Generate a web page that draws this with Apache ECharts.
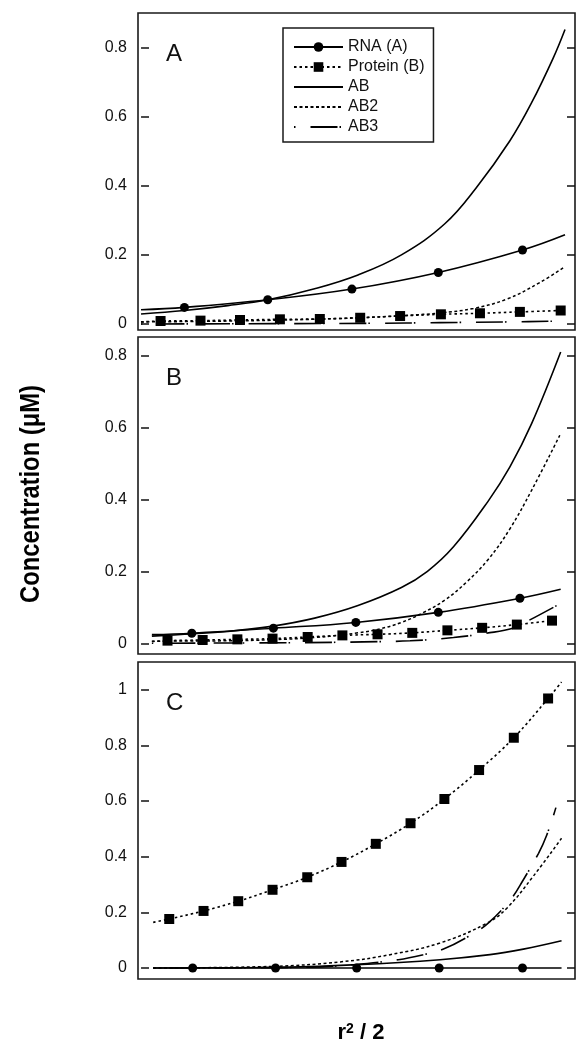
<!DOCTYPE html>
<html>
<head>
<meta charset="utf-8">
<script src="https://cdn.jsdelivr.net/npm/echarts@6/dist/echarts.min.js"></script>
<style>
html,body{margin:0;padding:0;background:#fff;}
#chart{width:581px;height:1050px;}
</style>
</head>
<body>
<div id="chart"></div>
<script>
// ---------- data (x = r^2/2, arbitrary units 0..100 across the plot) ----------
const seriesNames = ['RNA (A)', 'Protein (B)', 'AB', 'AB2', 'AB3'];
const panelLabels = ['A', 'B', 'C'];
const yTicksAB = [0, 0.2, 0.4, 0.6, 0.8];
const yTicksC = [0, 0.2, 0.4, 0.6, 0.8, 1];

// Panel A
const rnaA_lineX = [0, 97.7];
const rnaA_lineY = [0.041, 0.258];
const rnaA_markX = [10.0, 29.2, 48.6, 68.5, 87.9];
const rnaA_markY = [0.048, 0.070, 0.101, 0.149, 0.214];
const proA_lineX = [0];
const proA_lineY = [0.006];
const proA_markX = [4.5, 13.7, 22.8, 32.0, 41.2, 50.5, 59.7, 69.1, 78.1, 87.3, 96.7];
const proA_markY = [0.0087, 0.0097, 0.0116, 0.0135, 0.0145, 0.018, 0.023, 0.028, 0.031, 0.035, 0.039];
const abA_x = [0, 10, 20, 29.2, 40, 50, 60, 70, 77.3, 85, 90, 95, 97.7];
const abA_y = [0.029, 0.039, 0.053, 0.070, 0.102, 0.142, 0.200, 0.290, 0.395, 0.530, 0.640, 0.770, 0.852];
const ab2A_x = [0, 22.8, 45.9, 61.2, 68.9, 76.6, 84.3, 91.9, 97.7];
const ab2A_y = [0.006, 0.009, 0.016, 0.025, 0.032, 0.045, 0.072, 0.120, 0.166];
const ab3A_x = [0, 30.5, 53.5, 68.9, 84.3, 94.2, 97.7];
const ab3A_y = [0.0, 0.001, 0.002, 0.004, 0.006, 0.008, 0.009];

// Panel B
const rnaB_lineX = [2.5, 96.7];
const rnaB_lineY = [0.024, 0.150];
const rnaB_markX = [11.7, 30.5, 49.5, 68.5, 87.3];
const rnaB_markY = [0.028, 0.042, 0.058, 0.086, 0.125];
const proB_lineX = [2.5];
const proB_lineY = [0.005];
const proB_markX = [6.1, 14.2, 22.2, 30.3, 38.4, 46.4, 54.5, 62.5, 70.6, 78.6, 86.6, 94.7];
const proB_markY = [0.0074, 0.0092, 0.011, 0.013, 0.0176, 0.022, 0.025, 0.029, 0.036, 0.043, 0.052, 0.063];
const abB_x = [2.5, 10, 20, 30, 40, 50, 60, 66, 72, 80, 85, 90, 96.7];
const abB_y = [0.020, 0.025, 0.033, 0.047, 0.070, 0.105, 0.155, 0.200, 0.268, 0.395, 0.490, 0.610, 0.809];
const ab2B_x = [2.5, 20, 30, 40, 50, 55, 60, 65, 70, 75, 80, 85, 90, 96.5];
const ab2B_y = [0.006, 0.007, 0.010, 0.016, 0.029, 0.040, 0.058, 0.085, 0.120, 0.170, 0.233, 0.318, 0.425, 0.578];
const ab3B_x = [2.5, 38.2, 51.2, 62.0, 72.0, 79.6, 85.8, 89.6, 95.8];
const ab3B_y = [0.0, 0.002, 0.004, 0.007, 0.016, 0.028, 0.042, 0.065, 0.105];

// Panel C
const rnaC_lineX = [2.8, 96.9];
const rnaC_lineY = [0, 0];
const rnaC_markX = [11.9, 31.0, 49.7, 68.7, 87.9];
const rnaC_markY = [0, 0, 0, 0, 0];
const proC_lineX = [2.8, 96.9];
const proC_lineY = [0.164, 1.027];
const proC_markX = [6.5, 14.4, 22.4, 30.3, 38.3, 46.2, 54.1, 62.1, 69.9, 77.9, 85.9, 93.8];
const proC_markY = [0.176, 0.205, 0.240, 0.281, 0.326, 0.381, 0.446, 0.520, 0.607, 0.711, 0.827, 0.968];
const abC_x = [2.8, 30.5, 49.7, 68.9, 80.4, 88.1, 96.9];
const abC_y = [0, 0.002, 0.012, 0.030, 0.048, 0.068, 0.098];
const ab2C_x = [2.8, 30.5, 45.9, 57.4, 68.9, 79.7, 84.3, 90.4, 96.9];
const ab2C_y = [0, 0.006, 0.022, 0.048, 0.090, 0.161, 0.215, 0.330, 0.466];
const ab3C_x = [2.8, 38.2, 48.9, 59.3, 65.1, 69.7, 75.4, 80.0, 85.4, 88.1, 91.6, 93.5, 95.6];
const ab3C_y = [0, 0.003, 0.012, 0.030, 0.048, 0.068, 0.113, 0.161, 0.251, 0.317, 0.412, 0.478, 0.576];

// ---------- build ----------
function merged(lx, ly, mx, my) {
  const pts = [];
  lx.forEach((x, i) => pts.push({ value: [x, ly[i]], symbol: 'none' }));
  mx.forEach((x, i) => pts.push({ value: [x, my[i]] }));
  pts.sort((a, b) => a.value[0] - b.value[0]);
  return pts;
}
function pairs(xs, ys) { return xs.map((x, i) => [x, ys[i]]); }

const panels = [
  { rna: merged(rnaA_lineX, rnaA_lineY, rnaA_markX, rnaA_markY),
    pro: merged(proA_lineX, proA_lineY, proA_markX, proA_markY),
    ab: pairs(abA_x, abA_y), ab2: pairs(ab2A_x, ab2A_y), ab3: pairs(ab3A_x, ab3A_y),
    min: -0.0174, max: 0.8996, ticks: yTicksAB, top: 13 },
  { rna: merged(rnaB_lineX, rnaB_lineY, rnaB_markX, rnaB_markY),
    pro: merged(proB_lineX, proB_lineY, proB_markX, proB_markY),
    ab: pairs(abB_x, abB_y), ab2: pairs(ab2B_x, ab2B_y), ab3: pairs(ab3B_x, ab3B_y),
    min: -0.0297, max: 0.8508, ticks: yTicksAB, top: 337 },
  { rna: merged(rnaC_lineX, rnaC_lineY, rnaC_markX, rnaC_markY),
    pro: merged(proC_lineX, proC_lineY, proC_markX, proC_markY),
    ab: pairs(abC_x, abC_y), ab2: pairs(ab2C_x, ab2C_y), ab3: pairs(ab3C_x, ab3C_y),
    min: -0.0394, max: 1.099, ticks: yTicksC, top: 662 }
];

const INK = '#111';
const FONT = "'Liberation Sans', Arial, sans-serif";
const grids = [], xAxes = [], yAxes = [], series = [], graphics = [];

const styles = {
  rna: { lineStyle: { type: 'solid', width: 1.6 }, symbol: 'circle', symbolSize: 9 },
  pro: { lineStyle: { type: [2.5, 3], width: 1.6 }, symbol: 'rect', symbolSize: 10 },
  ab:  { lineStyle: { type: 'solid', width: 1.6 }, symbol: 'none' },
  ab2: { lineStyle: { type: [3, 2.5], width: 1.5 }, symbol: 'none' },
  ab3: { lineStyle: { type: [1.5, 15, 27, 2], width: 1.6 }, symbol: 'none' }
};
const keys = ['rna', 'pro', 'ab', 'ab2', 'ab3'];

panels.forEach((p, gi) => {
  grids.push({ left: 138, width: 437, top: p.top, height: 317, show: true,
    borderColor: '#1a1a1a', borderWidth: 1.6, backgroundColor: 'transparent' });
  xAxes.push({ gridIndex: gi, type: 'value', min: -0.7, max: 100, show: false });
  const common = {
    gridIndex: gi, type: 'value', min: p.min, max: p.max,
    axisLine: { show: false }, splitLine: { show: false },
    axisTick: { show: true, inside: true, length: 8, customValues: p.ticks,
      lineStyle: { color: INK, width: 1.5 } }
  };
  yAxes.push(Object.assign({}, common, { position: 'left',
    axisLabel: { show: true, customValues: p.ticks, margin: 11, color: INK,
      fontFamily: FONT, fontSize: 16,
      formatter: v => { const r = v / 0.2; return Math.abs(r - Math.round(r)) < 1e-6 ? String(+(+v).toFixed(1)) : ''; } } }));
  yAxes.push(Object.assign({}, common, { position: 'right', axisLabel: { show: false } }));
  keys.forEach((k, si) => {
    const st = styles[k];
    series.push({
      name: seriesNames[si], type: 'line', xAxisIndex: gi, yAxisIndex: gi * 2,
      data: p[k], smooth: 0.4, showAllSymbol: true,
      symbol: st.symbol, symbolSize: st.symbolSize || 0,
      itemStyle: { color: '#000' },
      lineStyle: Object.assign({ color: '#000' }, st.lineStyle),
      animation: false, silent: true, z: 3
    });
  });
  graphics.push({ type: 'text', left: 166, top: p.top + 29,
    style: { text: panelLabels[gi], fill: INK, font: "24px 'Liberation Sans', Arial, sans-serif" } });
});

graphics.push({ type: 'text', x: 32, y: 494, rotation: Math.PI / 2, scaleX: 0.88,
  style: { text: 'Concentration (μM)', fill: '#000', align: 'center', verticalAlign: 'middle',
    font: "bold 27px 'Liberation Sans', Arial, sans-serif" } });
graphics.push({ type: 'text', x: 361, y: 1033,
  style: { text: '{a|r}{s|2}{a| / 2}', align: 'center', verticalAlign: 'middle', fill: '#000',
    rich: { a: { fontSize: 22, fontWeight: 'bold', fontFamily: FONT, fill: '#000' },
            s: { fontSize: 14, fontWeight: 'bold', fontFamily: FONT, verticalAlign: 'top', fill: '#000' } } } });

const legendData = seriesNames.map((n, i) => i < 2 ? { name: n } :
  { name: n, itemStyle: { opacity: 0 } });

const chart = echarts.init(document.getElementById('chart'), null, { renderer: 'canvas' });
chart.setOption({
  animation: false,
  backgroundColor: '#fff',
  grid: grids, xAxis: xAxes, yAxis: yAxes, series: series,
  legend: {
    data: legendData, orient: 'vertical', left: 283, top: 28,
    padding: [11, 9, 7, 10], itemGap: 4, itemWidth: 49, itemHeight: 12,
    borderColor: '#1a1a1a', borderWidth: 1.5, backgroundColor: '#fff',
    textStyle: { fontSize: 16, fontFamily: FONT, color: INK },
    selectedMode: false
  },
  graphic: graphics
});
</script>
</body>
</html>
